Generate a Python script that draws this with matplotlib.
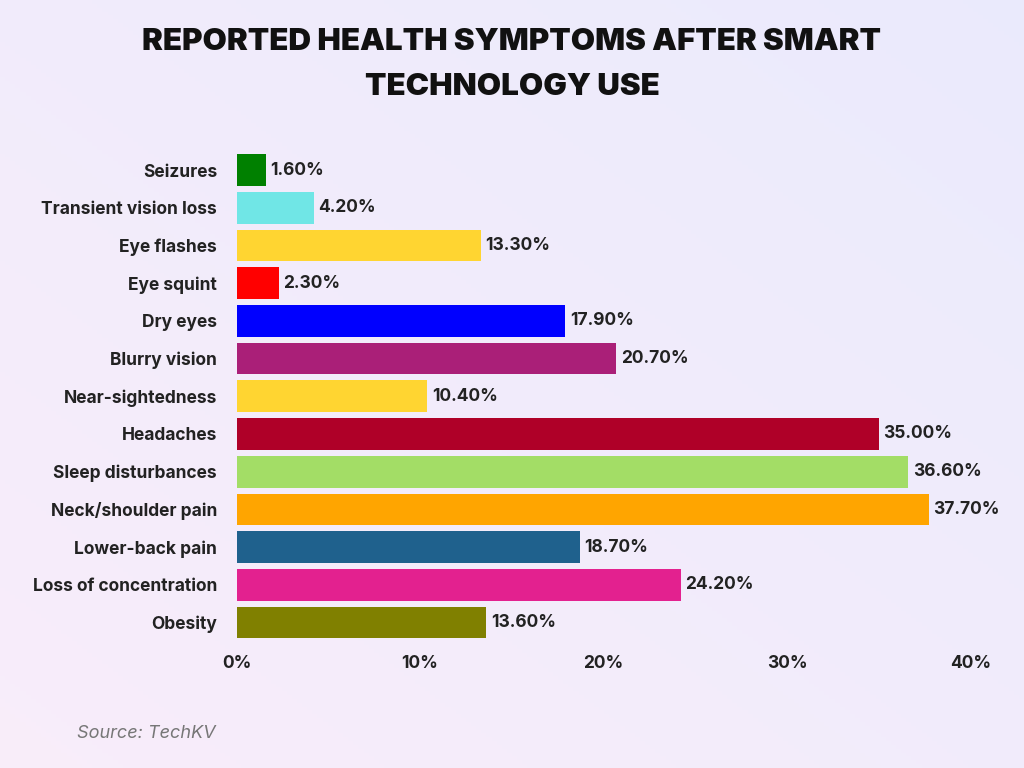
import numpy as np
import matplotlib.pyplot as plt

categories = ["Seizures", "Transient vision loss", "Eye flashes", "Eye squint", "Dry eyes",
              "Blurry vision", "Near-sightedness", "Headaches", "Sleep disturbances",
              "Neck/shoulder pain", "Lower-back pain", "Loss of concentration", "Obesity"]
values = [1.6, 4.2, 13.3, 2.3, 17.9, 20.7, 10.4, 35.0, 36.6, 37.7, 18.7, 24.2, 13.6]
colors = ["#008000", "#70e6e6", "#ffd531", "#ff0000", "#0000ff", "#aa1f78", "#ffd531",
          "#af0028", "#a3dd66", "#ffa500", "#1f618d", "#e3218f", "#808000"]
xticks = [0, 10, 20, 30, 40]

plt.rcParams["font.family"] = "Inter"
fig = plt.figure(figsize=(10.24, 7.68), dpi=100)

# background gradient
bg = fig.add_axes([0, 0, 1, 1], zorder=-1)
yy, xx = np.mgrid[0:1:200j, 0:1:200j]
c_pink = np.array([0.98, 0.90, 0.97])
c_blue = np.array([0.87, 0.88, 0.99])
c_white = np.array([0.97, 0.96, 0.99])
t = (xx + (1 - yy)) / 2
img = c_pink * (1 - t)[..., None] + c_blue * t[..., None]
img = 0.5 * img + 0.5 * c_white
bg.imshow(img, extent=[0, 1, 0, 1], aspect="auto", origin="upper")
bg.axis("off")

ax = fig.add_axes([0.231, 0.165, 0.717, 0.638])
ax.patch.set_alpha(0)
y = np.arange(len(categories))
ax.barh(y, values, color=colors, height=0.84)
for yi, v in zip(y, values):
    ax.text(v + 0.25, yi, f"{v:.2f}%", va="center", ha="left", fontsize=12.5,
            fontweight="bold", color="#222222")
ax.set_ylim(len(categories) - 0.5, -0.5)
ax.set_xlim(0, 40)
ax.set_yticks(y)
ax.set_yticklabels(categories, fontsize=12.5, fontweight="bold", color="#222222")
ax.set_xticks(xticks)
ax.set_xticklabels([f"{v}%" for v in xticks], fontsize=12.5, fontweight="bold", color="#222222")
ax.tick_params(axis="y", length=0, pad=14)
ax.tick_params(axis="x", length=0, pad=10)
for s in ax.spines.values():
    s.set_visible(False)

fig.text(0.5, 0.945, "REPORTED HEALTH SYMPTOMS AFTER SMART", ha="center", va="center",
         fontsize=22.5, fontweight="black", color="#111111")
fig.text(0.5, 0.887, "TECHNOLOGY USE", ha="center", va="center",
         fontsize=22.5, fontweight="black", color="#111111")
fig.text(0.075, 0.045, "Source: TechKV", ha="left", va="center", fontsize=13,
         style="italic", color="#777777")

fig.savefig("out.png", dpi=100)
